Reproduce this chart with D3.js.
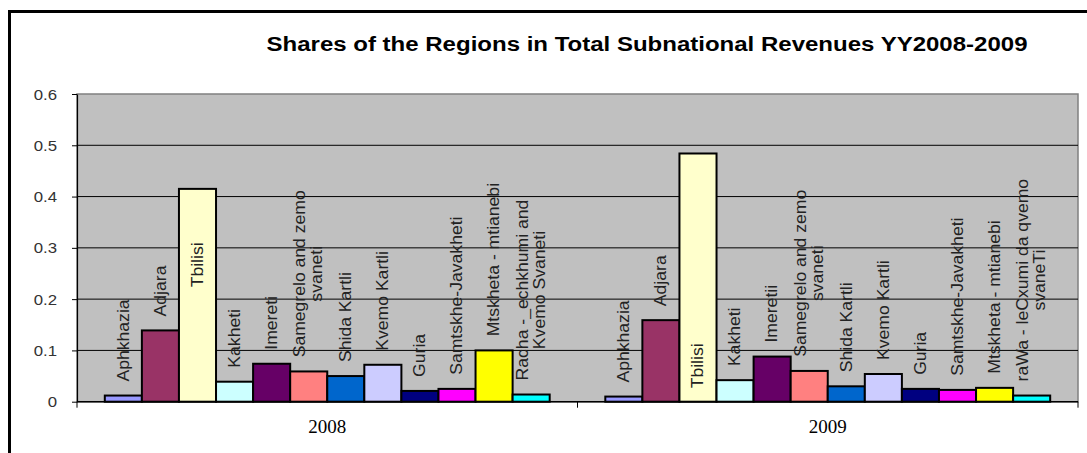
<!DOCTYPE html>
<html>
<head>
<meta charset="utf-8">
<script src="https://cdn.jsdelivr.net/npm/d3@7"></script>
<style>
  html, body { margin: 0; padding: 0; background: #fff; }
  svg { display: block; }
</style>
</head>
<body>
<svg id="chart" width="1087" height="453"></svg>
<script>
// ---------- DATA ----------
const title = "Shares of the Regions in Total Subnational Revenues YY2008-2009";
const years = ["2008", "2009"];
const labels2008 = [
  "Aphkhazia", "Adjara", "Tbilisi", "Kakheti", "Imereti",
  "Samegrelo and zemo\nsvaneti", "Shida Kartli", "Kvemo Kartli", "Guria",
  "Samtskhe-Javakheti", "Mtskheta - mtianebi", "Racha -_echkhumi and\nKvemo Svaneti"
];
const labels2009 = [
  "Aphkhazia", "Adjara", "Tbilisi", "Kakheti", "Imeretii",
  "Samegrelo and zemo\nsvaneti", "Shida Kartli", "Kvemo Kartli", "Guria",
  "Samtskhe-Javakheti", "Mtskheta - mtianebi", "raWa - leCxumi da qvemo\nsvaneTi"
];
const values2008 = [0.012, 0.139, 0.415, 0.039, 0.074, 0.059, 0.050, 0.072, 0.021, 0.025, 0.100, 0.014];
const values2009 = [0.010, 0.159, 0.484, 0.042, 0.088, 0.060, 0.030, 0.054, 0.025, 0.023, 0.027, 0.012];
const yTicks = [0, 0.1, 0.2, 0.3, 0.4, 0.5, 0.6];

// palette (Excel classic series colours)
const palette = ["#9999FF", "#993366", "#FFFFCC", "#CCFFFF", "#660066", "#FF8080",
                 "#0066CC", "#CCCCFF", "#000080", "#FF00FF", "#FFFF00", "#00FFFF"];

// ---------- LAYOUT ----------
const svg = d3.select("#chart");
const plot = { left: 77, right: 1078, top: 94, bottom: 401.7 };
const textStretch = 1.1;

// outer frame (runs off right and bottom edges)
svg.append("rect")
  .attr("x", 9.5).attr("y", 11.5).attr("width", 1200).attr("height", 600)
  .attr("fill", "#fff").attr("stroke", "#000").attr("stroke-width", 3);

// title
svg.append("text")
  .attr("x", 647).attr("y", 51)
  .attr("text-anchor", "middle")
  .attr("font-family", "'Liberation Sans', Arial, sans-serif")
  .attr("font-weight", "bold").attr("font-size", 20)
  .attr("textLength", 761).attr("lengthAdjust", "spacingAndGlyphs")
  .attr("fill", "#000")
  .text(title);

const y = d3.scaleLinear().domain([0, 0.6]).range([plot.bottom, plot.top]);
const xGroup = d3.scaleBand().domain(years).range([plot.left, plot.right]).padding(0);
const regionIdx = d3.range(values2008.length);
const xInner = d3.scaleBand().domain(regionIdx).range([0, xGroup.bandwidth()])
  .paddingInner(0).paddingOuter(0.75);

// plot background
svg.append("rect")
  .attr("x", plot.left).attr("y", plot.top)
  .attr("width", plot.right - plot.left).attr("height", plot.bottom - plot.top)
  .attr("fill", "#C0C0C0").attr("stroke", "#808080").attr("stroke-width", 1.5);

// gridlines
svg.append("g").selectAll("line")
  .data(yTicks.filter(t => t > 0 && t < 0.6))
  .join("line")
  .attr("x1", plot.left).attr("x2", plot.right)
  .attr("y1", d => y(d)).attr("y2", d => y(d))
  .attr("stroke", "#000").attr("stroke-width", 1);

// y axis
const yAxis = svg.append("g")
  .attr("transform", `translate(${plot.left},0)`)
  .call(d3.axisLeft(y).tickValues(yTicks).tickSize(5).tickSizeOuter(0)
        .tickFormat(d => d === 0 ? "0" : d3.format(".1f")(d)));
yAxis.select(".domain").attr("stroke", "#000").attr("stroke-width", 1.2);
yAxis.selectAll(".tick line").attr("stroke", "#000");
yAxis.selectAll(".tick text")
  .attr("x", 0).attr("dy", "0.34em")
  .attr("transform", `translate(-20,0) scale(1.12,1)`)
  .attr("text-anchor", "end")
  .attr("font-family", "'Liberation Sans', Arial, sans-serif")
  .attr("font-size", 15).attr("fill", "#333");

// bars
const series = [
  { year: "2008", values: values2008, labels: labels2008 },
  { year: "2009", values: values2009, labels: labels2009 }
];

const groups = svg.append("g").selectAll("g")
  .data(series).join("g")
  .attr("transform", d => `translate(${xGroup(d.year)},0)`);

groups.selectAll("rect")
  .data(d => d.values.map((v, i) => ({ v, i })))
  .join("rect")
  .attr("x", d => xInner(d.i))
  .attr("y", d => y(d.v))
  .attr("width", xInner.bandwidth())
  .attr("height", d => y(0) - y(d.v))
  .attr("fill", d => palette[d.i])
  .attr("stroke", "#000").attr("stroke-width", 2);

// x axis line and ticks
svg.append("line")
  .attr("x1", plot.left).attr("x2", plot.right)
  .attr("y1", plot.bottom).attr("y2", plot.bottom)
  .attr("stroke", "#000").attr("stroke-width", 1.5);
svg.append("g").selectAll("line")
  .data([plot.left, xGroup("2009"), plot.right])
  .join("line")
  .attr("x1", d => d).attr("x2", d => d)
  .attr("y1", plot.bottom).attr("y2", plot.bottom + 6)
  .attr("stroke", "#000").attr("stroke-width", 1);

// year labels
svg.append("g").selectAll("text")
  .data(years).join("text")
  .attr("x", d => xGroup(d) + xGroup.bandwidth() / 2)
  .attr("y", 433)
  .attr("text-anchor", "middle")
  .attr("font-family", "'Liberation Serif', 'Times New Roman', serif")
  .attr("font-size", 19).attr("fill", "#000")
  .text(d => d);

// data labels (category names, rotated)
const gap = 14;
const lineStep = 17;
const labelFont = 16;
// Tbilisi labels sit inside the bar in the reference (start value on the y scale)
const insideStart = { "2008": 0.223, "2009": 0.026 };

groups.each(function (s) {
  const g = d3.select(this);
  s.values.forEach((v, i) => {
    const lines = s.labels[i].split("\n");
    const cx = xInner(i) + xInner.bandwidth() / 2;
    const lg = g.append("g");
    const texts = lines.map((ln, k) =>
      lg.append("text")
        .attr("font-family", "'Liberation Sans', Arial, sans-serif")
        .attr("font-size", labelFont)
        .attr("fill", "#222")
        .attr("text-anchor", "middle")
        .attr("dominant-baseline", "central")
        .text(ln));
    const maxLen = d3.max(texts, t => t.node().getComputedTextLength()) * textStretch;
    let startY;
    if (i === 2) startY = y(insideStart[s.year]);
    else startY = y(v) - gap;
    const midY = startY - maxLen / 2;
    texts.forEach((t, k) => {
      const off = (k - (lines.length - 1) / 2) * lineStep;
      t.attr("transform", `translate(${cx + off},${midY}) rotate(-90) scale(${textStretch},1)`);
    });
  });
});
</script>
</body>
</html>
